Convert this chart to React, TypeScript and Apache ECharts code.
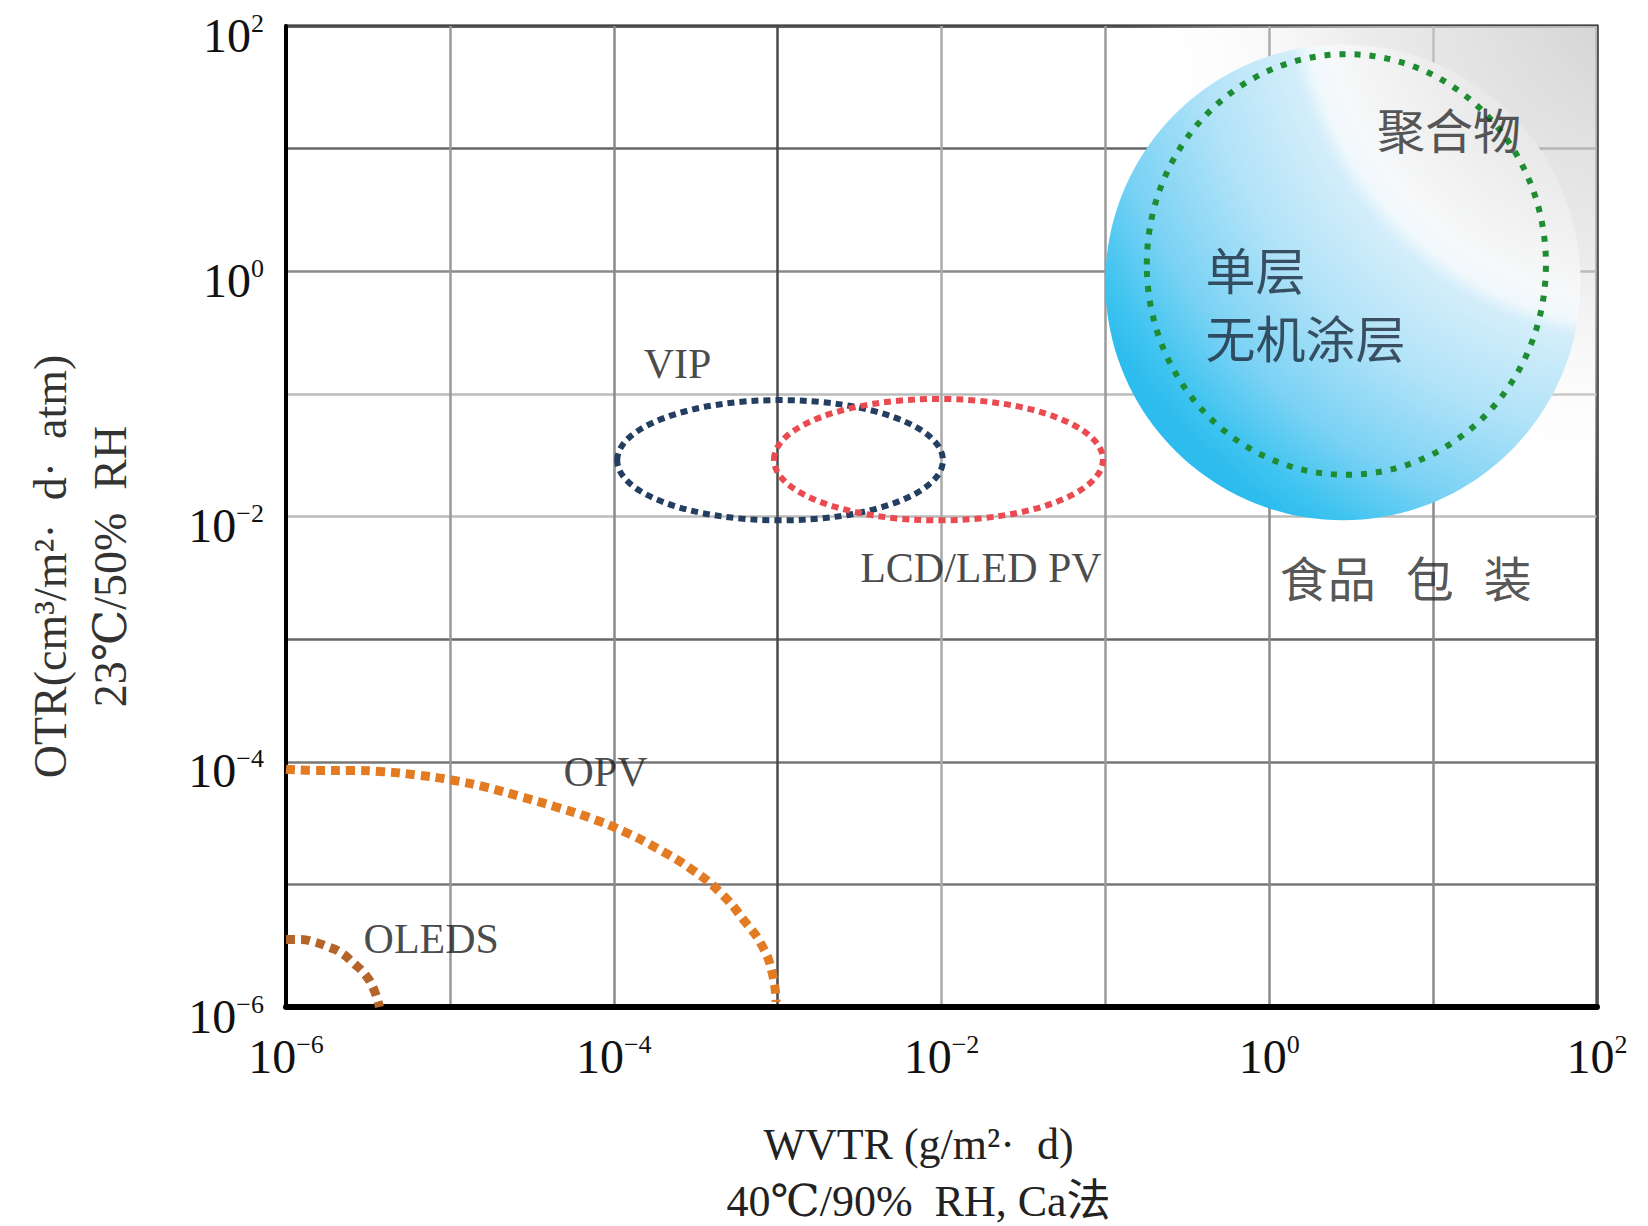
import React, { useEffect, useRef } from 'react';
import * as echarts from 'echarts';

// ---------- data ----------
const axisMin = 1e-6;
const axisMax = 1e2;
const labeledExponents = [-6, -4, -2, 0, 2];

// OPV limit curve (WVTR g/m²·d, OTR cm³/m²·d·atm)
const opvWvtr = [1.0e-6, 1.48e-6, 2.4e-6, 3.9e-6, 6.3e-6, 1.02e-5, 1.66e-5, 2.7e-5, 4.4e-5, 7.1e-5, 1.15e-4, 1.86e-4, 3.0e-4, 4.5e-4, 6.3e-4, 8.1e-4, 9.3e-4, 9.8e-4];
const opvOtr = [8.7e-5, 8.5e-5, 8.5e-5, 8.3e-5, 7.8e-5, 7.1e-5, 6.2e-5, 5.2e-5, 4.3e-5, 3.5e-5, 2.7e-5, 1.95e-5, 1.32e-5, 8.5e-6, 5.0e-6, 3.1e-6, 1.86e-6, 1.1e-6];

// OLEDS limit curve
const oledWvtr = [1.0e-6, 1.23e-6, 1.48e-6, 1.82e-6, 2.19e-6, 2.57e-6, 3.02e-6, 3.39e-6, 3.72e-6];
const oledOtr = [3.55e-6, 3.55e-6, 3.39e-6, 3.09e-6, 2.75e-6, 2.29e-6, 1.86e-6, 1.45e-6, 1.0e-6];

// regions: [wvtrMin, otrMin, wvtrMax, otrMax]
const vipBox = [1.05e-4, 9.3e-3, 1.02e-2, 8.9e-2];
const lcdBox = [9.5e-4, 9.3e-3, 9.66e-2, 9.1e-2];
const coatingBox = [0.1, 9.33e-3, 79.4, 70.8];
const dottedCircleBox = [0.179, 2.19e-2, 48.8, 58.9];
const polymerBox = [0.06, 0.01, 100, 100];
const polymerFocus = [209, 237];

// annotations
const textNames = ['VIP', 'LCD/LED PV', 'OPV', 'OLEDS'];
const textWvtr = [2.45e-4, 0.0174, 8.9e-5, 7.7e-6];
const textOtr = [0.175, 0.0038, 8.2e-5, 3.57e-6];

const cjkNames = ['聚合物', '食品包装'];
const cjkWvtr = [12.5, 6.8];
const cjkOtr = [14.7, 0.00327];

const coatingNames = ['单层', '无机涂层'];
const coatingWvtr = [0.405, 0.405];
const coatingOtr = [1.06, 0.296];

// ---------- styles ----------
const SERIF = '"Liberation Serif", "DejaVu Serif", "Noto Sans CJK SC", serif';
const CJK = '"Noto Sans CJK SC", sans-serif';
const xGridColors = ['#555', '#999', '#8a8a8a', '#4a4a4a', '#aaa', '#9a9a9a', '#8a8a8a', '#8a8a8a', '#555'];
const yGridColors = ['#555', '#777', '#777', '#666', '#bbb', '#bbb', '#8a8a8a', '#666', '#555'];

const tickFormatter = (v: number) => {
  const e = Math.round(Math.log10(v));
  if (labeledExponents.indexOf(e) < 0) return '';
  const s = e < 0 ? '\u2212' + Math.abs(e) : String(e);
  return `{b|10}{s|${s}}`;
};

const tickRich = {
  b: { fontSize: 48, fontFamily: SERIF, color: '#111', lineHeight: 50 },
  s: { fontSize: 26, fontFamily: SERIF, color: '#111', lineHeight: 26, verticalAlign: 'top' },
};

const boxCorners = (api: any) => {
  const p1 = api.coord([api.value(0), api.value(1)]);
  const p2 = api.coord([api.value(2), api.value(3)]);
  return { p1, p2 };
};

const ellipseSeries = (name: string, box: number[], color: string, width: number, dash: number[], z: number) => ({
  type: 'custom',
  name,
  z,
  silent: true,
  coordinateSystem: 'cartesian2d',
  data: [box],
  encode: { x: [0, 2], y: [1, 3] },
  renderItem: (_params: any, api: any) => {
    const { p1, p2 } = boxCorners(api);
    return {
      type: 'ellipse',
      shape: {
        cx: (p1[0] + p2[0]) / 2,
        cy: (p1[1] + p2[1]) / 2,
        rx: Math.abs(p2[0] - p1[0]) / 2,
        ry: Math.abs(p2[1] - p1[1]) / 2,
      },
      style: { fill: 'none', stroke: color, lineWidth: width, lineDash: dash },
    };
  },
});

export default function App() {
  const ref = useRef<HTMLDivElement>(null);

  useEffect(() => {
    if (!ref.current) return;
    const chart = echarts.init(ref.current, null, { renderer: 'svg' });

    const option: any = {
      animation: false,
      backgroundColor: '#fff',
      grid: {
        left: 286,
        top: 26,
        right: 51,
        bottom: 219,
        show: true,
        borderColor: '#111',
        borderWidth: 3,
        containLabel: false,
        outerBoundsMode: 'none',
      },
      xAxis: {
        type: 'log',
        logBase: 10,
        min: axisMin,
        max: axisMax,
        name: 'WVTR (g/m²·  d)\n40℃/90%  RH, Ca法',
        nameLocation: 'middle',
        nameGap: 109,
        nameTextStyle: {
          fontFamily: SERIF,
          fontSize: 44,
          color: '#222',
          lineHeight: 57,
          padding: [0, 46, 0, 0],
        },
        axisLine: { show: true, onZero: false, lineStyle: { color: '#000', width: 6 } },
        axisTick: { show: false },
        axisLabel: { formatter: tickFormatter, rich: tickRich, margin: 24 },
        splitLine: { show: true, lineStyle: { color: xGridColors, width: 2.5 } },
      },
      yAxis: {
        type: 'log',
        logBase: 10,
        min: axisMin,
        max: axisMax,
        name: 'OTR(cm³/m²·  d·  atm)\n23℃/50%  RH',
        nameLocation: 'middle',
        nameGap: 146,
        nameTextStyle: {
          fontFamily: SERIF,
          fontSize: 46,
          color: '#333',
          lineHeight: 60,
          padding: [0, 100, 0, 0],
        },
        axisLine: { show: true, onZero: false, lineStyle: { color: '#000', width: 4 } },
        axisTick: { show: false },
        axisLabel: { formatter: tickFormatter, rich: tickRich, margin: 22, padding: [18, 0, 0, 0] },
        splitLine: { show: true, lineStyle: { color: yGridColors, width: 2.5 } },
      },
      series: [
        {
          type: 'custom',
          name: 'polymer-zone',
          z: 1,
          silent: true,
          coordinateSystem: 'cartesian2d',
          data: [polymerBox],
          encode: { x: [0, 2], y: [1, 3] },
          renderItem: (_params: any, api: any) => {
            const { p1, p2 } = boxCorners(api);
            const f = api.coord(polymerFocus);
            return {
              type: 'rect',
              shape: {
                x: Math.min(p1[0], p2[0]),
                y: Math.min(p1[1], p2[1]),
                width: Math.abs(p2[0] - p1[0]),
                height: Math.abs(p2[1] - p1[1]),
              },
              style: {
                fill: new echarts.graphic.RadialGradient(f[0], f[1], 520, [
                  { offset: 0, color: 'rgba(200,200,200,0.9)' },
                  { offset: 0.55, color: 'rgba(222,222,222,0.6)' },
                  { offset: 1, color: 'rgba(255,255,255,0)' },
                ], true),
              },
            };
          },
        },
        {
          type: 'custom',
          name: 'inorganic-coating',
          z: 2,
          silent: true,
          coordinateSystem: 'cartesian2d',
          data: [coatingBox],
          encode: { x: [0, 2], y: [1, 3] },
          renderItem: (_params: any, api: any) => {
            const { p1, p2 } = boxCorners(api);
            const f = api.coord(polymerFocus);
            return {
              type: 'ellipse',
              shape: {
                cx: (p1[0] + p2[0]) / 2,
                cy: (p1[1] + p2[1]) / 2,
                rx: Math.abs(p2[0] - p1[0]) / 2,
                ry: Math.abs(p2[1] - p1[1]) / 2,
              },
              style: {
                fill: new echarts.graphic.RadialGradient(f[0], f[1], 650, [
                  { offset: 0, color: '#d4d4d4' },
                  { offset: 0.3, color: '#e8e8e8' },
                  { offset: 0.5, color: '#f7f8f9' },
                  { offset: 0.535, color: '#f0f8fc' },
                  { offset: 0.56, color: '#d4eefa' },
                  { offset: 0.7, color: '#b2e3f8' },
                  { offset: 0.85, color: '#7bd2f4' },
                  { offset: 0.95, color: '#40c4f0' },
                  { offset: 1, color: '#2cbcee' },
                ], true),
              },
            };
          },
        },
        ellipseSeries('dotted-circle', dottedCircleBox, '#1e8c30', 6, [6, 9], 3),
        ellipseSeries('VIP', vipBox, '#233e60', 6, [7, 5], 3),
        ellipseSeries('LCD/LED PV', lcdBox, '#ea4b50', 6, [7, 5], 3),
        {
          type: 'line',
          name: 'OPV',
          z: 4,
          silent: true,
          smooth: true,
          symbol: 'none',
          data: opvWvtr.map((x, i) => [x, opvOtr[i]]),
          lineStyle: { color: '#e27b22', width: 9, type: [9, 6], cap: 'butt' },
        },
        {
          type: 'line',
          name: 'OLEDS',
          z: 4,
          silent: true,
          smooth: true,
          symbol: 'none',
          data: oledWvtr.map((x, i) => [x, oledOtr[i]]),
          lineStyle: { color: '#b5652a', width: 9, type: [9, 6], cap: 'butt' },
        },
        {
          type: 'scatter',
          name: 'labels',
          z: 5,
          silent: true,
          symbolSize: 1,
          itemStyle: { color: 'rgba(0,0,0,0)' },
          data: textNames.map((n, i) => ({ name: n, value: [textWvtr[i], textOtr[i]] })),
          label: {
            show: true,
            position: 'inside',
            formatter: '{b}',
            fontFamily: SERIF,
            fontSize: 42,
            color: '#1a1a1a',
          },
        },
        {
          type: 'scatter',
          name: 'cjk-labels',
          z: 5,
          silent: true,
          symbolSize: 1,
          itemStyle: { color: 'rgba(0,0,0,0)' },
          data: cjkNames.map((n, i) => ({ name: n, value: [cjkWvtr[i], cjkOtr[i]] })),
          label: {
            show: true,
            position: 'inside',
            formatter: (p: any) => {
              const t = p.name as string;
              if (t.length === 4) {
                return `{a|${t.slice(0, 2)}}{g| }{a|${t[2]}}{g| }{a|${t[3]}}`;
              }
              return `{a|${t}}`;
            },
            rich: {
              a: { fontFamily: CJK, fontSize: 48, color: '#2a2a2a' },
              g: { width: 30, fontSize: 10 },
            },
          },
        },
        {
          type: 'scatter',
          name: 'coating-labels',
          z: 5,
          silent: true,
          symbolSize: 1,
          itemStyle: { color: 'rgba(0,0,0,0)' },
          data: coatingNames.map((n, i) => ({ name: n, value: [coatingWvtr[i], coatingOtr[i]] })),
          label: {
            show: true,
            position: 'right',
            distance: 0,
            formatter: '{b}',
            fontFamily: CJK,
            fontSize: 50,
            color: '#1c2b3c',
          },
        },
      ],
    };

    chart.setOption(option);
    return () => chart.dispose();
  }, []);

  return (
    <div
      ref={ref}
      style={{ position: 'absolute', left: 0, top: 0, width: 1648, height: 1226 }}
    />
  );
}
